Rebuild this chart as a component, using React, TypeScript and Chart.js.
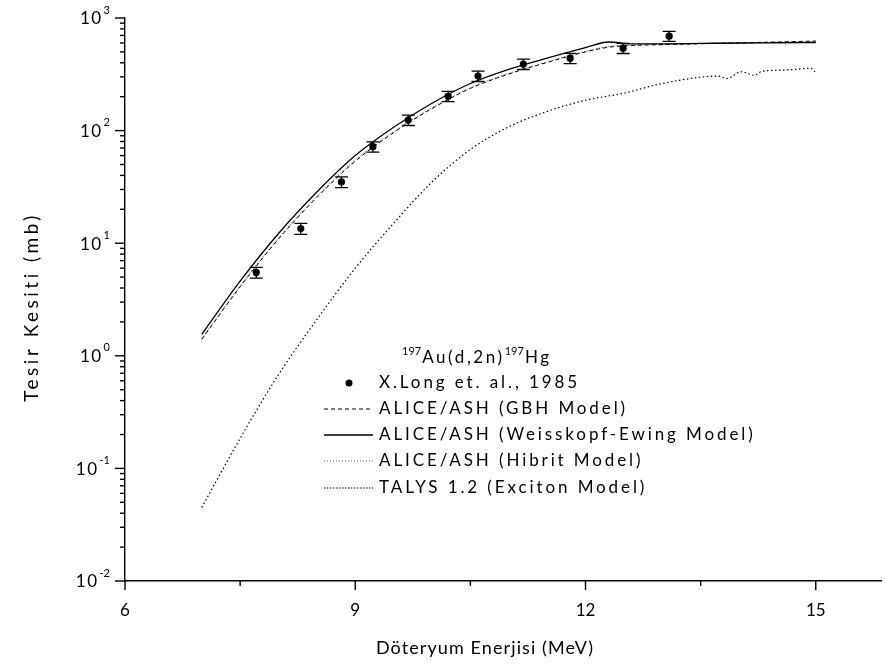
import React, { useEffect, useRef } from 'react';
import { Chart, registerables } from 'chart.js';

Chart.register(...registerables);

// Experimental data: X.Long et. al., 1985
const expEnergy = [7.71, 8.29, 8.82, 9.23, 9.69, 10.21, 10.6, 11.19, 11.8, 12.49, 13.09];
const expXS = [5.5, 13.5, 35, 72, 124, 202, 305, 390, 440, 540, 690];
const expErr = [0.6, 1.5, 3.8, 7.5, 13, 21, 32, 41, 46, 56, 70];

// ALICE/ASH models
const modelEnergy = [7, 7.5, 8, 8.5, 9, 9.5, 10, 10.5, 11, 11.5, 12, 12.3, 12.6, 13, 13.5, 14, 14.5, 15];
const gbhXS = [1.4, 4.1, 10.9, 25.5, 53.5, 96, 157, 237, 318, 403, 500, 550, 570, 580, 590, 600, 612, 624];
const weXS = [1.55, 4.6, 12.2, 28.5, 60, 107, 175, 262, 350, 440, 545, 612, 588, 590, 595, 600, 603, 606];
const hibritXS = [1.42, 4.2, 11.1, 26.0, 55, 98, 160, 241, 322, 407, 507, 558, 574, 583, 592, 602, 612, 620];

// TALYS 1.2
const talysEnergy = [7, 7.5, 8, 8.5, 9, 9.5, 10, 10.5, 11, 11.5, 12, 12.5, 13, 13.5, 13.73, 13.84, 14.03, 14.2, 14.3, 14.6, 14.94, 15];
const talysXS = [0.045, 0.185, 0.68, 2.1, 6.0, 15, 35, 68, 108, 148, 186, 215, 262, 298, 305, 290, 333, 310, 337, 345, 357, 326];

const xMajorTicks = [6, 9, 12, 15];
const xMinorTicks = [7.5, 10.5, 13.5];
const yDecades = [-2, -1, 0, 1, 2, 3];

const legendTitle = { pre: '197', main1: 'Au(d,2n)', sup2: '197', main2: 'Hg' };
const legendLabels = [
  'X.Long et. al., 1985',
  'ALICE/ASH (GBH Model)',
  'ALICE/ASH (Weisskopf-Ewing Model)',
  'ALICE/ASH (Hibrit Model)',
  'TALYS 1.2 (Exciton Model)',
];
const xTitle = 'Döteryum Enerjisi (MeV)';
const yTitle = 'Tesir Kesiti (mb)';

const FONT = 'Lato, "Open Sans", sans-serif';

const zip = (xs: number[], ys: number[]) => xs.map((x, i) => ({ x, y: ys[i] }));

const errorBarPlugin = {
  id: 'errorBars',
  beforeDatasetsDraw(chart: any) {
    const { ctx, scales } = chart;
    const x = scales.x;
    const y = scales.y;
    ctx.save();
    ctx.strokeStyle = '#000';
    ctx.lineWidth = 1.3;
    expEnergy.forEach((e, i) => {
      const px = x.getPixelForValue(e);
      const lo = y.getPixelForValue(expXS[i] - expErr[i]);
      const hi = y.getPixelForValue(expXS[i] + expErr[i]);
      ctx.beginPath();
      ctx.moveTo(px, lo);
      ctx.lineTo(px, hi);
      ctx.moveTo(px - 6.5, lo);
      ctx.lineTo(px + 6.5, lo);
      ctx.moveTo(px - 6.5, hi);
      ctx.lineTo(px + 6.5, hi);
      ctx.stroke();
    });
    ctx.restore();
  },
};

const axesPlugin = {
  id: 'customAxes',
  afterDraw(chart: any) {
    const { ctx, chartArea, scales } = chart;
    const x = scales.x;
    const y = scales.y;
    const left = chartArea.left;
    const bottom = chartArea.bottom;
    ctx.save();
    ctx.strokeStyle = '#000';
    ctx.fillStyle = '#000';
    ctx.lineWidth = 1.4;
    const seg = (x1: number, y1: number, x2: number, y2: number) => {
      ctx.beginPath();
      ctx.moveTo(x1, y1);
      ctx.lineTo(x2, y2);
      ctx.stroke();
    };
    // y ticks
    yDecades.forEach((d) => {
      const v = Math.pow(10, d);
      const py = y.getPixelForValue(v);
      seg(left - 10, py, left, py);
      if (d < 3) {
        for (let m = 2; m <= 9; m++) {
          const pm = y.getPixelForValue(m * v);
          seg(left - 5, pm, left, pm);
        }
      }
      ctx.textBaseline = 'middle';
      ctx.textAlign = 'right';
      ctx.font = `11px ${FONT}`;
      (ctx as any).letterSpacing = '0px';
      const expStr = d < 0 ? `-${-d}` : `${d}`;
      const expRight = left - 15;
      ctx.fillText(expStr, expRight, py - 8);
      const ew = ctx.measureText(expStr).width;
      ctx.font = `17px ${FONT}`;
      (ctx as any).letterSpacing = '1.5px';
      ctx.fillText('10', expRight - ew - 1, py + 1);
    });
    // x ticks
    xMajorTicks.forEach((v) => {
      const px = x.getPixelForValue(v);
      seg(px, bottom, px, bottom + 9);
    });
    xMinorTicks.forEach((v) => {
      const px = x.getPixelForValue(v);
      seg(px, bottom, px, bottom + 5);
    });
    (ctx as any).letterSpacing = '0px';
    ctx.font = `17px ${FONT}`;
    ctx.textAlign = 'center';
    ctx.textBaseline = 'middle';
    xMajorTicks.forEach((v) => {
      const px = x.getPixelForValue(v);
      ctx.fillText(String(v), px, bottom + 30);
    });
    // axis titles
    ctx.font = `18px ${FONT}`;
    (ctx as any).letterSpacing = '1.1px';
    ctx.fillText(xTitle, 485, 648);
    ctx.save();
    ctx.translate(32, 307);
    ctx.rotate(-Math.PI / 2);
    ctx.font = `19px ${FONT}`;
    (ctx as any).letterSpacing = '3.5px';
    ctx.fillText(yTitle, 0, 0);
    ctx.restore();
    ctx.restore();
  },
};

const legendPlugin = {
  id: 'customLegend',
  afterDraw(chart: any) {
    const { ctx } = chart;
    ctx.save();
    ctx.fillStyle = '#000';
    ctx.strokeStyle = '#000';
    ctx.textBaseline = 'middle';
    ctx.textAlign = 'left';
    let tx = 402;
    const ty = 358;
    ctx.font = `11px ${FONT}`;
    (ctx as any).letterSpacing = '0px';
    ctx.fillText(legendTitle.pre, tx, ty - 7);
    tx += ctx.measureText(legendTitle.pre).width + 1;
    ctx.font = `17px ${FONT}`;
    (ctx as any).letterSpacing = '2.6px';
    ctx.fillText(legendTitle.main1, tx, ty);
    tx += ctx.measureText(legendTitle.main1).width;
    ctx.font = `11px ${FONT}`;
    (ctx as any).letterSpacing = '0px';
    ctx.fillText(legendTitle.sup2, tx, ty - 7);
    tx += ctx.measureText(legendTitle.sup2).width + 1;
    ctx.font = `17px ${FONT}`;
    (ctx as any).letterSpacing = '2.6px';
    ctx.fillText(legendTitle.main2, tx, ty);

    const rowY = [383, 409, 435, 461, 488];
    const styles: any[] = [
      null,
      { dash: [4, 3], width: 1 },
      { dash: [], width: 1.3 },
      { dash: [1, 2], width: 1 },
      { dash: [1.5, 1.5], width: 1 },
    ];
    legendLabels.forEach((label, i) => {
      const yy = rowY[i];
      if (i === 0) {
        ctx.beginPath();
        ctx.arc(349, yy, 3.5, 0, Math.PI * 2);
        ctx.fill();
      } else {
        const s = styles[i];
        ctx.lineWidth = s.width;
        ctx.setLineDash(s.dash);
        ctx.strokeStyle = i === 3 ? '#555' : '#000';
        ctx.beginPath();
        ctx.moveTo(324, yy);
        ctx.lineTo(373, yy);
        ctx.stroke();
        ctx.setLineDash([]);
      }
      ctx.font = `17px ${FONT}`;
      (ctx as any).letterSpacing = '2.9px';
      ctx.fillText(label, 379, yy);
    });
    ctx.restore();
  },
};

export default function App() {
  const canvasRef = useRef<HTMLCanvasElement | null>(null);

  useEffect(() => {
    document.body.style.margin = '0';
    const canvas = canvasRef.current;
    if (!canvas) return;
    const chart = new Chart(canvas, {
      type: 'line',
      data: {
        datasets: [
          {
            label: legendLabels[0],
            data: zip(expEnergy, expXS),
            showLine: false,
            pointRadius: 3.6,
            pointBackgroundColor: '#000',
            pointBorderColor: '#000',
            pointBorderWidth: 0,
            borderColor: '#000',
          },
          {
            label: legendLabels[1],
            data: zip(modelEnergy, gbhXS),
            borderColor: '#000',
            borderWidth: 1,
            borderDash: [4, 3],
            pointRadius: 0,
            cubicInterpolationMode: 'monotone',
          },
          {
            label: legendLabels[2],
            data: zip(modelEnergy, weXS),
            borderColor: '#000',
            borderWidth: 1.3,
            pointRadius: 0,
            cubicInterpolationMode: 'monotone',
          },
          {
            label: legendLabels[3],
            data: zip(modelEnergy, hibritXS),
            borderColor: '#555',
            borderWidth: 1,
            borderDash: [1, 2],
            pointRadius: 0,
            cubicInterpolationMode: 'monotone',
          },
          {
            label: legendLabels[4],
            data: zip(talysEnergy, talysXS),
            borderColor: '#000',
            borderWidth: 1.2,
            borderDash: [1.5, 2.5],
            pointRadius: 0,
            cubicInterpolationMode: 'monotone',
          },
        ],
      },
      options: {
        responsive: false,
        maintainAspectRatio: false,
        animation: false,
        layout: { padding: { top: 18, right: 0, left: 0, bottom: 0 } },
        plugins: {
          legend: { display: false },
          tooltip: { enabled: false },
        },
        scales: {
          x: {
            type: 'linear',
            min: 6,
            max: 15.85,
            grid: { display: false },
            border: { display: true, color: '#000', width: 1.4 },
            ticks: { display: false },
            afterFit: (s: any) => {
              s.height = 91;
            },
          },
          y: {
            type: 'logarithmic',
            min: 0.01,
            max: 1000,
            grid: { display: false },
            border: { display: true, color: '#000', width: 1.4 },
            ticks: { display: false },
            afterFit: (s: any) => {
              s.width = 125;
            },
          },
        },
      },
      plugins: [errorBarPlugin, axesPlugin, legendPlugin],
    } as any);
    return () => chart.destroy();
  }, []);

  return (
    <div style={{ width: 885, height: 672 }}>
      <canvas ref={canvasRef} width={885} height={672} style={{ display: 'block' }} />
    </div>
  );
}
